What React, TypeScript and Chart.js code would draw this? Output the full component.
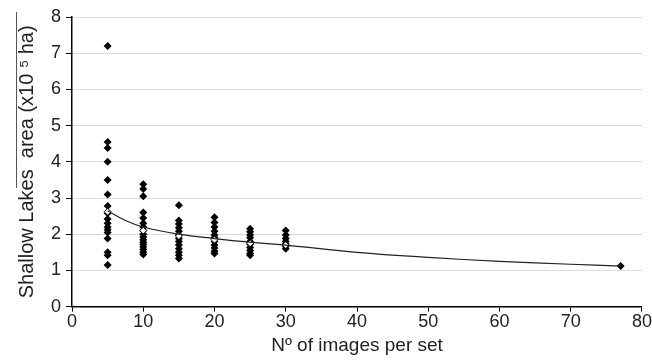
import React, { useEffect, useRef } from "react";
import { Chart, registerables } from "chart.js";

Chart.register(...registerables);

const x5 = [7.2, 4.55, 4.38, 4.0, 3.5, 3.1, 2.78, 2.58, 2.42, 2.3, 2.2, 2.12, 2.05, 1.88, 1.5, 1.42, 1.15];
const x10 = [3.38, 3.25, 3.05, 2.6, 2.45, 2.3, 2.2, 2.1, 2.0, 1.92, 1.85, 1.78, 1.72, 1.65, 1.58, 1.5, 1.44];
const x15 = [2.8, 2.38, 2.28, 2.18, 2.08, 1.98, 1.88, 1.8, 1.7, 1.6, 1.5, 1.42, 1.33];
const x20 = [2.47, 2.32, 2.2, 2.08, 1.98, 1.9, 1.8, 1.7, 1.62, 1.53, 1.47];
const x25 = [2.15, 2.07, 1.98, 1.9, 1.8, 1.72, 1.63, 1.55, 1.47, 1.42];
const x30 = [2.1, 1.98, 1.88, 1.8, 1.73, 1.67, 1.6];
const x77 = [1.12];

const groupX = [5, 10, 15, 20, 25, 30, 77];
const groupValues = [x5, x10, x15, x20, x25, x30, x77];
const meanX = [5, 10, 15, 20, 25, 30];
const meanValues = [2.62, 2.1, 1.95, 1.85, 1.75, 1.7];

const fitX = [5, 7.5, 10, 15, 20, 25, 30, 40, 50, 60, 70, 77];
const fitY = [2.65, 2.38, 2.2, 2.0, 1.88, 1.78, 1.7, 1.5, 1.36, 1.25, 1.17, 1.12];

const xTicks = [0, 10, 20, 30, 40, 50, 60, 70, 80];
const yTicks = [0, 1, 2, 3, 4, 5, 6, 7, 8];

const FONT = "'Liberation Sans', Arial, sans-serif";

export default function App() {
  const ref = useRef<HTMLCanvasElement | null>(null);
  useEffect(() => {
    if (!ref.current) return;
    const points: { x: number; y: number }[] = [];
    groupValues.forEach((vals, i) => vals.forEach((v) => points.push({ x: groupX[i], y: v })));
    const means = meanX.map((x, i) => ({ x, y: meanValues[i] }));
    const fit = fitX.map((x, i) => ({ x, y: fitY[i] }));

    const overline = {
      id: "overline",
      afterDraw(chart: any) {
        const c = chart.ctx;
        c.save();
        c.strokeStyle = "#555";
        c.lineWidth = 1;
        c.beginPath();
        c.moveTo(16.5, 12);
        c.lineTo(16.5, 188);
        c.stroke();
        c.restore();
      },
    };

    const chart = new Chart(ref.current, {
      type: "scatter",
      data: {
        datasets: [
          {
            type: "line",
            data: fit,
            borderColor: "#222",
            borderWidth: 1.2,
            pointRadius: 0,
            tension: 0.4,
            fill: false,
          } as any,
          {
            data: means,
            pointStyle: "rectRot",
            pointRadius: 3.5,
            backgroundColor: "#fff",
            borderColor: "#000",
            borderWidth: 1,
          },
          {
            data: points,
            pointStyle: "rectRot",
            pointRadius: 4,
            backgroundColor: "#000",
            borderColor: "#000",
            borderWidth: 0,
          },
        ],
      },
      options: {
        animation: false,
        responsive: false,
        layout: { padding: { top: 17, right: 10, left: 15, bottom: 6 } },
        plugins: { legend: { display: false }, tooltip: { enabled: false } },
        scales: {
          x: {
            type: "linear",
            min: 0,
            max: 80,
            afterBuildTicks: (s: any) => {
              s.ticks = xTicks.map((v) => ({ value: v }));
            },
            grid: { drawOnChartArea: false, drawTicks: true, tickLength: 5, color: "#000" },
            border: { display: true, color: "#000", width: 1.5 },
            ticks: { color: "#222", font: { family: FONT, size: 18 }, padding: 0, maxRotation: 0 },
            title: {
              display: true,
              text: "Nº of images per set",
              color: "#222",
              font: { family: FONT, size: 19 },
              padding: { top: 1, bottom: 0 },
            },
          },
          y: {
            type: "linear",
            min: 0,
            max: 8,
            afterBuildTicks: (s: any) => {
              s.ticks = yTicks.map((v) => ({ value: v }));
            },
            grid: { color: "#dcdcdc", tickColor: "#000", drawTicks: true, tickLength: 6 },
            border: { display: true, color: "#000", width: 1.5 },
            ticks: { color: "#222", font: { family: FONT, size: 18 }, padding: 5 },
            title: {
              display: true,
              text: "Shallow Lakes  area (x10 \u2075 ha)",
              color: "#222",
              font: { family: FONT, size: 20 },
              padding: { top: 0, bottom: 7 },
            },
          },
        },
      },
      plugins: [overline],
    });
    return () => chart.destroy();
  }, []);
  return (
    <div style={{ position: "fixed", left: 0, top: 0, width: 652, height: 363, background: "#fff" }}>
      <canvas ref={ref} width={652} height={363} />
    </div>
  );
}
